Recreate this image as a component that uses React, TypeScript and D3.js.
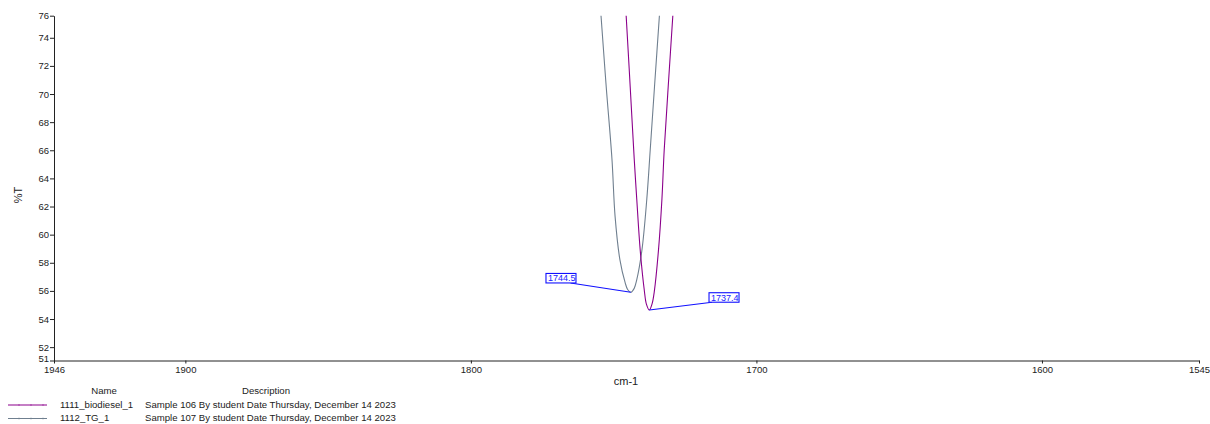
import { useEffect, useRef } from "react";
import * as d3 from "d3";

// wavenumber (cm-1) / %T
const biodieselWn = [1746.9, 1745.6, 1744.2, 1742.8, 1741.9, 1740.7, 1739.3, 1738.5, 1737.5, 1736.5, 1735.8, 1734.3, 1733.1, 1732.3, 1730.9, 1729.3, 1727.9];
const biodieselT = [80.0, 75.5, 70.5, 65.4, 62.5, 58.9, 56.1, 55.04, 54.64, 55.11, 55.9, 58.9, 62.5, 66.0, 70.5, 75.5, 80.0];

const tgWn = [1756.1, 1754.4, 1752.6, 1750.6, 1749.5, 1747.8, 1746.0, 1745.1, 1744.0, 1742.8, 1741.9, 1740.1, 1738.4, 1737.2, 1735.7, 1734.0, 1732.5];
const tgT = [80.0, 75.5, 70.5, 65.4, 61.3, 58.2, 56.6, 56.1, 55.9, 56.18, 56.8, 58.9, 62.5, 66.0, 70.5, 75.5, 80.0];

const xTicks = [1946, 1900, 1800, 1700, 1600, 1545];
const yTicks = [51.05, 52, 54, 56, 58, 60, 62, 64, 66, 68, 70, 72, 74, 75.57];

// peak labels: text, peak position, label box anchor (data units)
const peakLabels = ["1744.5", "1737.4"];
const peakWn = [1744.0, 1737.5];
const peakT = [55.9, 54.64];
const boxWn = [1773.7, 1716.6];
const boxT = [57.24, 55.87];
const lineFrom = [0.82, 0.1]; // where the leader leaves the box bottom (fraction of width)

const legendNames = ["1111_biodiesel_1", "1112_TG_1"];
const legendDesc = [
  "Sample 106 By student Date Thursday, December 14 2023",
  "Sample 107 By student Date Thursday, December 14 2023",
];
const colors = ["#8b008b", "#6f7f8f"];

const W = 1210;
const H = 424;
const FONT = "Arial, 'Liberation Sans', sans-serif";

export default function App() {
  const ref = useRef<SVGSVGElement>(null);

  useEffect(() => {
    const svg = d3.select(ref.current);
    svg.selectAll("*").remove();

    const x = d3.scaleLinear().domain([1946, 1545]).range([54, 1199]);
    const y = d3.scaleLinear().domain([51.05, 75.57]).range([360.5, 15.7]);

    svg
      .append("defs")
      .append("clipPath")
      .attr("id", "plotclip")
      .append("rect")
      .attr("x", 54)
      .attr("y", 15.7)
      .attr("width", 1199 - 54)
      .attr("height", 360.5 - 15.7);

    // axes
    const xAxis = svg
      .append("g")
      .attr("transform", "translate(0,360.5)")
      .call(
        d3.axisBottom(x).tickValues(xTicks).tickSize(3).tickSizeOuter(0).tickPadding(2.5).tickFormat(d3.format("d"))
      );
    const yAxis = svg
      .append("g")
      .attr("transform", "translate(54,0)")
      .call(
        d3
          .axisLeft(y)
          .tickValues(yTicks)
          .tickSize(4)
          .tickSizeOuter(0)
          .tickPadding(1)
          .tickFormat((d) => String(Math.round(+d)))
      );
    [xAxis, yAxis].forEach((a) => {
      a.selectAll("text").attr("font-family", FONT).attr("font-size", 9.5).attr("fill", "#222");
      a.selectAll("line,path").attr("stroke", "#222");
    });
    // bottom label sits just above the x-axis labels
    yAxis.selectAll<SVGTextElement, number>("text").filter((d) => d === yTicks[0]).attr("dy", "0.1em");

    svg
      .append("text")
      .attr("transform", "translate(22,195) rotate(-90)")
      .attr("text-anchor", "middle")
      .attr("font-family", FONT)
      .attr("font-size", 11)
      .attr("fill", "#222")
      .text("%T");
    svg
      .append("text")
      .attr("x", 626)
      .attr("y", 385)
      .attr("text-anchor", "middle")
      .attr("font-family", FONT)
      .attr("font-size", 11)
      .attr("fill", "#222")
      .text("cm-1");

    // spectra
    const line = d3
      .line<[number, number]>()
      .x((d) => x(d[0]))
      .y((d) => y(d[1]))
      .curve(d3.curveCatmullRom.alpha(0.5));
    const series = [
      d3.zip(tgWn, tgT) as [number, number][],
      d3.zip(biodieselWn, biodieselT) as [number, number][],
    ];
    const serColors = [colors[1], colors[0]];
    const plot = svg.append("g").attr("clip-path", "url(#plotclip)");
    series.forEach((s, i) => {
      plot
        .append("path")
        .attr("d", line(s))
        .attr("fill", "none")
        .attr("stroke", serColors[i])
        .attr("stroke-width", 1.1);
    });

    // peak labels
    peakLabels.forEach((lab, i) => {
      const bx = x(boxWn[i]);
      const by = y(boxT[i]);
      const bw = 30;
      const bh = 9.5;
      svg
        .append("line")
        .attr("x1", bx + bw * lineFrom[i])
        .attr("y1", by + bh)
        .attr("x2", x(peakWn[i]))
        .attr("y2", y(peakT[i]))
        .attr("stroke", "#1010ff")
        .attr("stroke-width", 1.1);
      const cid = `lab${i}`;
      svg
        .append("clipPath")
        .attr("id", cid)
        .append("rect")
        .attr("x", bx)
        .attr("y", by)
        .attr("width", bw)
        .attr("height", bh);
      svg
        .append("rect")
        .attr("x", bx)
        .attr("y", by)
        .attr("width", bw)
        .attr("height", bh)
        .attr("fill", "#fff")
        .attr("stroke", "#1010ff")
        .attr("stroke-width", 1.1);
      svg
        .append("text")
        .attr("clip-path", `url(#${cid})`)
        .attr("x", bx + 2)
        .attr("y", by + 8)
        .attr("font-family", FONT)
        .attr("font-size", 9)
        .attr("fill", "#2020ff")
        .text(lab);
    });

    // legend
    const lg = svg.append("g").attr("font-family", FONT).attr("font-size", 9.6).attr("fill", "#222");
    lg.append("text").attr("x", 104).attr("y", 393.5).attr("text-anchor", "middle").text("Name");
    lg.append("text").attr("x", 266).attr("y", 393.5).attr("text-anchor", "middle").text("Description");
    legendNames.forEach((n, i) => {
      const yy = 405 + i * 13.5;
      lg.append("line")
        .attr("x1", 8)
        .attr("x2", 47)
        .attr("y1", yy)
        .attr("y2", yy)
        .attr("stroke", colors[i])
        .attr("stroke-width", 1.2);
      [19, 31, 43].forEach((mx) => {
        lg.append("line")
          .attr("x1", mx)
          .attr("x2", mx)
          .attr("y1", yy - 1)
          .attr("y2", yy + 1)
          .attr("stroke", colors[i])
          .attr("stroke-opacity", 0.5);
      });
      lg.append("text").attr("x", 60).attr("y", yy + 2.5).text(n);
      lg.append("text").attr("x", 145).attr("y", yy + 2.5).text(legendDesc[i]);
    });
  }, []);

  return (
    <svg
      ref={ref}
      width={W}
      height={H}
      style={{ position: "absolute", left: 0, top: 0, background: "#fff" }}
    />
  );
}
